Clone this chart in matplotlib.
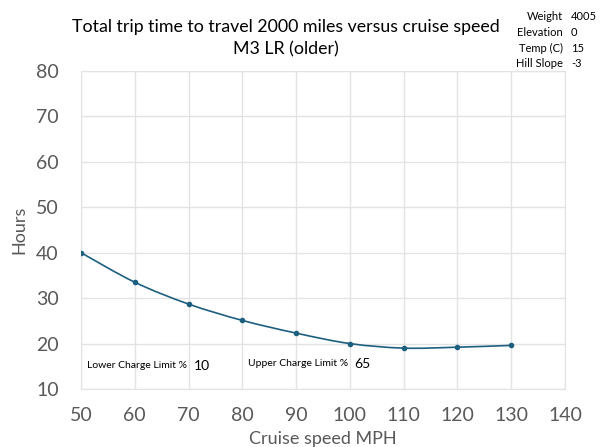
import matplotlib
matplotlib.use('Agg')
import matplotlib.pyplot as plt
import numpy as np
from matplotlib.path import Path
from matplotlib.patches import PathPatch

plt.rcParams['font.family'] = ['Lato', 'DejaVu Sans']

speeds = [50, 60, 70, 80, 90, 100, 110, 120, 130]
hours = [40.0, 33.5, 28.7, 25.1, 22.3, 20.0, 19.0, 19.2, 19.6]

param_names = ['Weight', 'Elevation', 'Temp (C)', 'Hill Slope']
param_values = ['4005', '0', '15', '-3']

lower_limit = 10
upper_limit = 65

line_color = '#1d5f80'
grid_color = '#e3e3e3'
tick_color = '#595959'

fig = plt.figure(figsize=(6.01, 4.47), dpi=100)
ax = fig.add_axes([81 / 601, 1 - 389 / 447, (565 - 81) / 601, (389 - 71) / 447])

# smooth curve through the points (Catmull-Rom as cubic Bezier), like Excel's smoothed line
x = np.array(speeds, dtype=float)
y = np.array(hours, dtype=float)
verts = [(x[0], y[0])]
codes = [Path.MOVETO]
for i in range(len(x) - 1):
    p0 = (x[i - 1], y[i - 1]) if i > 0 else (x[i], y[i])
    p1 = (x[i], y[i])
    p2 = (x[i + 1], y[i + 1])
    p3 = (x[i + 2], y[i + 2]) if i + 2 < len(x) else (x[i + 1], y[i + 1])
    t = 1 / 6
    c1 = (p1[0] + (p2[0] - p0[0]) * t, p1[1] + (p2[1] - p0[1]) * t)
    c2 = (p2[0] - (p3[0] - p1[0]) * t, p2[1] - (p3[1] - p1[1]) * t)
    verts += [c1, c2, p2]
    codes += [Path.CURVE4] * 3
ax.add_patch(PathPatch(Path(verts, codes), facecolor='none', edgecolor=line_color,
                       linewidth=1.2, zorder=3))
ax.plot(speeds, hours, linestyle='none', marker='o', markersize=3, color=line_color, zorder=4)

ax.set_xlim(50, 140)
ax.set_ylim(10, 80)
ax.set_xticks(range(50, 141, 10))
ax.set_yticks(range(10, 81, 10))
ax.grid(True, color=grid_color, linewidth=1)
ax.set_axisbelow(True)
for s in ax.spines.values():
    s.set_color(grid_color)
ax.tick_params(length=0, labelsize=14, labelcolor=tick_color)
ax.tick_params(axis='x', pad=13)
ax.tick_params(axis='y', pad=16)

ax.set_xlabel('Cruise speed MPH', fontsize=13, color=tick_color, labelpad=5)
ax.set_ylabel('Hours', fontsize=13, color=tick_color, labelpad=6)

fig.text(286 / 601, 1 - 27 / 447, 'Total trip time to travel 2000 miles versus cruise speed',
         ha='center', va='center', fontsize=12.8)
fig.text(286 / 601, 1 - 49 / 447, 'M3 LR (older)', ha='center', va='center', fontsize=12.8)

for i, (name, val) in enumerate(zip(param_names, param_values)):
    yy = 1 - (17 + 15.5 * i) / 447
    fig.text(563 / 601, yy, name, ha='right', va='center', fontsize=8)
    fig.text(571 / 601, yy, val, ha='left', va='center', fontsize=8)

fig.text(87 / 601, 1 - 366 / 447, 'Lower Charge Limit %', ha='left', va='center', fontsize=7.5)
fig.text(194 / 601, 1 - 366 / 447, str(lower_limit), ha='left', va='center', fontsize=10)
fig.text(248 / 601, 1 - 364 / 447, 'Upper Charge Limit %', ha='left', va='center', fontsize=7.5)
fig.text(354 / 601, 1 - 364 / 447, str(upper_limit), ha='left', va='center', fontsize=10)

fig.savefig('out.png', dpi=100)
